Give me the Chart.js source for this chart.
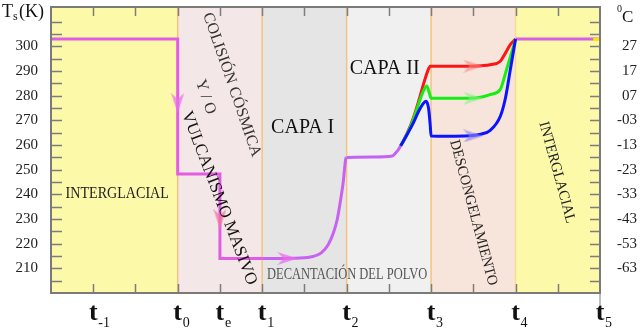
<!DOCTYPE html>
<html>
<head>
<meta charset="utf-8">
<script src="https://cdn.jsdelivr.net/npm/chart.js@4.4.0/dist/chart.umd.min.js"></script>
<style>
  html, body { margin: 0; padding: 0; background: #fff; }
  #c { display: block; }
</style>
</head>
<body>
<canvas id="c" width="640" height="331"></canvas>
<script>
// x axis stages (t units) and their labels
const xLabelVals = [-1, 0, 0.5, 1, 2, 3, 4, 5];
const xLabelSubs = ['-1', '0', 'e', '1', '2', '3', '4', '5'];

// y axis: Kelvin on the left, Celsius labels on the right
const yTickValsK = [210, 220, 230, 240, 250, 260, 270, 280, 290, 300];
const yTickLabelsC = ['-63', '-53', '-43', '-33', '-23', '-13', '-03', '07', '17', '27'];

// background stages
const bandEdges = [-1.5, 0, 1, 2, 3, 4, 5];
const bandColors = ['#fcf9a9', '#f4e7e7', '#e5e5e5', '#f0f0f0', '#f7e5db', '#fcf9a9'];

// violet path: interglacial -> impact -> volcanism (steps)
const stepX = [-1.5, 0, 0, 0.5, 0.5, 1.0];
const stepY = [303, 303, 248.3, 248.3, 214, 214];

// violet path: dust settling (capa I)
const capa1X = [1.0, 1.45, 1.6, 1.7, 1.78, 1.84, 1.89, 1.93, 1.96, 1.99, 2.0];
const capa1Y = [214, 214.2, 214.8, 216.3, 219.5, 224, 230, 238, 245, 254.5, 255];

// violet path: capa II start
const capa2X = [2.0, 2.3, 2.54, 2.58, 2.61, 2.64];
const capa2Y = [255, 255.2, 255.6, 256.8, 258, 259.7];

// the three branches
const redX = [2.64, 2.72, 2.79, 2.85, 2.91, 2.96, 2.99, 3.2, 3.45, 3.6, 3.7, 3.82, 3.88, 3.94, 3.98, 4.0];
const redY = [259.7, 265, 271, 277.5, 284.7, 290, 292, 292, 292, 292.2, 292.6, 294, 297.3, 300.8, 302.3, 303];
const greenX = [2.64, 2.72, 2.79, 2.85, 2.91, 2.95, 2.98, 3.0, 3.2, 3.45, 3.6, 3.7, 3.82, 3.88, 3.94, 3.98, 4.0];
const greenY = [259.7, 264.8, 270.5, 276.5, 282, 284, 281, 279, 279, 279, 279.5, 280.5, 282.6, 289, 296, 300.5, 303];
const blueX = [2.64, 2.72, 2.79, 2.85, 2.9, 2.94, 2.97, 2.99, 3.0, 3.2, 3.45, 3.6, 3.7, 3.82, 3.88, 3.94, 3.98, 4.0];
const blueY = [259.7, 264.5, 269, 273.5, 276.5, 277.8, 275, 268, 263.7, 263.6, 263.8, 264.5, 266, 271.7, 279, 291, 299, 303];

// back to interglacial
const endX = [4.0, 5.0];
const endY = [303, 303];
const tipX = [4.92, 5.0];
const tipY = [302.8, 302.8];

// arrow heads
const downArrowX = [0, 0.5];
const downArrowY = [277, 230];
const rightArrowX = [1.3, 3.5, 3.5, 3.5];
const rightArrowY = [214, 292, 279, 263.7];

const pts = (xs, ys) => xs.map((x, i) => ({ x: x, y: ys[i] }));

const SERIF = '"Liberation Serif", "DejaVu Serif", serif';

// chevron arrow head pointing right, as an image for pointStyle
function arrowImg(color) {
    const c = document.createElement('canvas');
    c.width = 20; c.height = 13;
    const g = c.getContext('2d');
    g.fillStyle = color;
    g.beginPath();
    g.moveTo(20, 6.5);
    g.lineTo(0, 0);
    g.lineTo(6, 6.5);
    g.lineTo(0, 13);
    g.closePath();
    g.fill();
    return c;
}

const notes = [
    { text: 'INTERGLACIAL', x: -0.716, y: 240.3, rot: 0, size: 16, sx: 0.88, color: '#222' },
    { text: 'COLISIÓN CÓSMICA', x: 0.64, y: 284.5, rot: 71, size: 16, sx: 1, color: '#333' },
    { text: 'Y / O', x: 0.33, y: 279.5, rot: 71, size: 16, sx: 1, color: '#333' },
    { text: 'VULCANISMO MASIVO', x: 0.49, y: 238.5, rot: 69, size: 17, sx: 1, color: '#111' },
    { text: 'CAPA I', x: 1.48, y: 267, rot: 0, size: 20, sx: 1, color: '#111' },
    { text: 'DECANTACIÓN DEL POLVO', x: 2.006, y: 207.2, rot: 0, size: 16, sx: 0.78, color: '#555' },
    { text: 'CAPA II', x: 2.45, y: 291.1, rot: 0, size: 20, sx: 1, color: '#111' },
    { text: 'DESCONGELAMIENTO', x: 3.5, y: 232.6, rot: 75, size: 15, sx: 0.95, color: '#222' },
    { text: 'INTERGLACIAL', x: 4.49, y: 248.9, rot: 74.7, size: 15, sx: 0.95, color: '#222' }
];

// tick values are taken from the scales once they are built
let yTickVals = [];
let xTickVals = [];

const decorPlugin = {
    id: 'decor',
    beforeDatasetsDraw(chart) {
        const { ctx, chartArea: a, scales: { x, y } } = chart;
        ctx.save();
        for (let i = 0; i < bandColors.length; i++) {
            const x0 = x.getPixelForValue(bandEdges[i]);
            const x1 = x.getPixelForValue(bandEdges[i + 1]);
            ctx.fillStyle = bandColors[i];
            ctx.fillRect(x0, a.top, x1 - x0, a.bottom - a.top);
        }
        ctx.lineWidth = 1.5;
        for (let i = 1; i < bandEdges.length - 1; i++) {
            const px = x.getPixelForValue(bandEdges[i]);
            ctx.strokeStyle = i === 5 ? '#f8dc96' : '#f4c47e';
            ctx.beginPath();
            ctx.moveTo(px, a.top);
            ctx.lineTo(px, a.bottom);
            ctx.stroke();
        }
        ctx.restore();
    },
    afterDraw(chart) {
        const { ctx, chartArea: a, scales: { x, y } } = chart;
        ctx.save();
        // annotations
        notes.forEach(n => {
            ctx.save();
            ctx.translate(x.getPixelForValue(n.x), y.getPixelForValue(n.y));
            ctx.rotate(n.rot * Math.PI / 180);
            ctx.scale(n.sx, 1);
            ctx.font = n.size + 'px ' + SERIF;
            ctx.fillStyle = n.color;
            ctx.textAlign = 'center';
            ctx.textBaseline = 'middle';
            ctx.fillText(n.text, 0, 0);
            ctx.restore();
        });

        // inward tick marks
        ctx.strokeStyle = '#7d7d7d';
        ctx.lineWidth = 1.5;
        yTickVals.forEach(v => {
            if (v <= y.min || v >= y.max) return;
            const py = Math.round(y.getPixelForValue(v)) + 0.5;
            ctx.beginPath();
            ctx.moveTo(a.left, py); ctx.lineTo(a.left + 11, py);
            ctx.moveTo(a.right, py); ctx.lineTo(a.right - 10, py);
            ctx.stroke();
        });
        xTickVals.forEach(v => {
            if (v <= x.min || v >= x.max) return;
            const px = Math.round(x.getPixelForValue(v)) + 0.5;
            ctx.beginPath();
            ctx.moveTo(px, a.top); ctx.lineTo(px, a.top + 9);
            ctx.moveTo(px, a.bottom); ctx.lineTo(px, a.bottom - 9);
            ctx.stroke();
        });
        const pEnd = x.getPixelForValue(x.max);
        ctx.lineWidth = 1;
        ctx.beginPath();
        ctx.moveTo(pEnd, a.bottom); ctx.lineTo(pEnd, a.bottom + 12);
        ctx.stroke();

        // frame
        ctx.strokeStyle = '#7a7a7a';
        ctx.lineWidth = 2;
        ctx.strokeRect(a.left, a.top, a.right - a.left, a.bottom - a.top);

        // x labels: t with subscripts
        ctx.fillStyle = '#111';
        ctx.textBaseline = 'alphabetic';
        xLabelVals.forEach((v, i) => {
            const px = x.getPixelForValue(v);
            ctx.font = 'bold 26px ' + SERIF;
            ctx.textAlign = 'center';
            ctx.fillText('t', px, 320);
            ctx.font = '14px ' + SERIF;
            ctx.textAlign = 'left';
            ctx.fillText(xLabelSubs[i], px + 5, 327);
        });

        // axis titles
        ctx.textAlign = 'left';
        ctx.font = '18px ' + SERIF;
        ctx.fillText('T', 2, 17);
        ctx.font = '12px ' + SERIF;
        ctx.fillText('s', 13, 20);
        ctx.font = '18px ' + SERIF;
        ctx.fillText('(K)', 19, 17);
        ctx.font = '10px ' + SERIF;
        ctx.fillText('0', 617, 12);
        ctx.font = '17px ' + SERIF;
        ctx.fillText('C', 622, 22);
        ctx.restore();
    }
};

const lineBase = { borderWidth: 3, pointRadius: 0, fill: false };

// drop the automatic label padding so the plot area fills the frame
const noPad = s => {
    s.paddingTop = 0; s.paddingBottom = 0;
    s.paddingLeft = 0; s.paddingRight = 0;
};

new Chart(document.getElementById('c'), {
    type: 'line',
    data: {
        datasets: [
            { ...lineBase, data: pts(stepX, stepY), borderColor: '#e35ce6', tension: 0, order: 4 },
            { ...lineBase, data: pts(capa1X, capa1Y), borderColor: '#c862f0', cubicInterpolationMode: 'monotone', order: 4 },
            { ...lineBase, data: pts(capa2X, capa2Y), borderColor: '#c462f2', cubicInterpolationMode: 'monotone', order: 4 },
            { ...lineBase, data: pts(redX, redY), borderColor: '#ff1414', cubicInterpolationMode: 'monotone', order: 3 },
            { ...lineBase, data: pts(greenX, greenY), borderColor: '#14ee14', cubicInterpolationMode: 'monotone', order: 2 },
            { ...lineBase, data: pts(blueX, blueY), borderColor: '#0c14ff', cubicInterpolationMode: 'monotone', order: 1 },
            { ...lineBase, data: pts(endX, endY), borderColor: '#d85ee6', tension: 0, order: 1 },
            { ...lineBase, data: pts(tipX, tipY), borderColor: '#ffe600', tension: 0, order: 0 },
            {
                data: pts(downArrowX, downArrowY), showLine: false, order: -1,
                pointRadius: 6, rotation: 90,
                pointStyle: [arrowImg('rgba(236,110,236,0.75)'), arrowImg('rgba(240,120,160,0.75)')]
            },
            {
                data: pts(rightArrowX, rightArrowY), showLine: false, order: -1,
                pointRadius: 6, rotation: 0,
                pointStyle: [arrowImg('rgba(236,110,236,0.75)'), arrowImg('rgba(248,130,130,0.6)'),
                             arrowImg('rgba(130,240,130,0.6)'), arrowImg('rgba(140,130,240,0.65)')]
            }
        ]
    },
    options: {
        responsive: false,
        animation: false,
        devicePixelRatio: 1,
        layout: { padding: { top: 5, right: 3, left: 0, bottom: 0 } },
        plugins: { legend: { display: false }, tooltip: { enabled: false } },
        scales: {
            x: {
                type: 'linear', min: -1.5, max: 5,
                ticks: { stepSize: 0.5, display: false },
                grid: { display: false, drawTicks: false },
                border: { display: false },
                afterBuildTicks: s => { xTickVals = s.ticks.map(t => t.value); },
                afterFit: s => { noPad(s); s.height = 38; }
            },
            y: {
                type: 'linear', position: 'left', min: 200, max: 316,
                ticks: {
                    stepSize: 5, padding: 13, color: '#222',
                    font: { family: SERIF, size: 15 },
                    callback: v => yTickValsK.includes(v) ? String(v) : ''
                },
                grid: { display: false, drawTicks: false },
                border: { display: false },
                afterBuildTicks: s => { yTickVals = s.ticks.map(t => t.value); },
                afterFit: s => { noPad(s); s.width = 51; }
            },
            y1: {
                type: 'linear', position: 'right', min: 200, max: 316,
                ticks: {
                    stepSize: 5, padding: 4, color: '#222', crossAlign: 'far',
                    font: { family: SERIF, size: 15 },
                    callback: v => {
                        const i = yTickValsK.indexOf(v);
                        return i >= 0 ? yTickLabelsC[i] : '';
                    }
                },
                grid: { display: false, drawTicks: false },
                border: { display: false },
                afterFit: s => { noPad(s); s.width = 37; }
            }
        }
    },
    plugins: [decorPlugin]
});
</script>
</body>
</html>
